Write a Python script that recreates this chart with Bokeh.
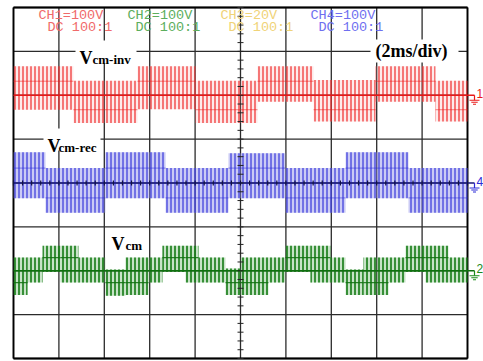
import numpy as np
from bokeh.plotting import figure
from bokeh.models import Range1d, Label
from bokeh.embed import file_html
from bokeh.resources import INLINE

# ---------------- screen geometry of the graticule ----------------
W, H = 483, 361
GX0, GX1 = 13, 467        # left / right border (px)
GY0, GY1 = 7, 358         # top / bottom border (px)
NX, NY = 10, 8            # divisions
MS_PER_DIV = 2            # 2 ms/div
PX_MS = (GX1 - GX0) / (NX * MS_PER_DIV)
PX_DIV = (GY1 - GY0) / NY
V_PER_DIV = 100


def X(px):
    return (px - GX0) / PX_MS


def Y(py):
    return NY / 2 - (py - GY0) / PX_DIV


# ---------------- data ----------------
# CH1  V_cm-inv (ground at +2 div)
ch1_edges = [0, 2.64, 5.46, 8.02, 10.75, 13.22, 15.95, 18.59, 20.0]
ch1_top = [66, 33, 66, 33, 66, 35, 66, 33]
ch1_bottom = [-33, -63, -32, -63, -15, -60, -15, -60]
ch1_band = [32, -33, 32, -33, 32, -33, 32, -33]

# CH4  V_cm-rec (ground at 0 div)
ch4_edges = [0, 1.41, 4.05, 6.70, 9.47, 11.98, 14.63, 17.40, 20.0]
ch4_top = [70, 34, 70, 34, 68, 34, 70, 34]
ch4_bottom = [-35, -68, -35, -68, -35, -68, -35, -68]
ch4_band = [34, -34, 34, -34, 34, -34, 34, -34]

# CH2  V_cm (ground at -2 div)
ch2_edges = [0, 0.62, 1.28, 2.07, 2.86, 4.05, 4.93, 5.95, 6.56, 7.58, 8.15,
             9.34, 10.0, 11.23, 11.98, 13.08, 13.96, 14.63, 15.42, 16.52,
             17.27, 18.15, 19.16, 20.0]
ch2_top = [30, 30, 57, 57, 30, 3, 30, 30, 57, 57, 30, 5, 30, 30, 57, 57, 30,
           3, 30, 30, 57, 57, 30]
ch2_bottom = [-55, -27, -3, -27, -27, -57, -55, -27, -3, -27, -27, -55, -55,
              -27, -3, -27, -27, -55, -55, -27, -3, -27, -27]

ch_offsets = {"CH1": 2, "CH4": 0, "CH2": -2}

header_names = ["CH1=100V", "CH2=100V", "CH3=20V", "CH4=100V"]
header_sub = ["DC 100:1", "DC 100:1", "DC 100:1", "DC 100:1"]
header_colors = ["#f06a6a", "#5cae5c", "#f0d377", "#6f6ff0"]

# ---------------- figure ----------------
p = figure(width=W, height=H, output_backend="svg", toolbar_location=None,
           x_range=Range1d(X(0), X(W)), y_range=Range1d(Y(H), Y(0)),
           x_axis_location=None, y_axis_location=None, min_border=0)
p.grid.visible = False
p.outline_line_color = None
p.background_fill_color = "white"
p.border_fill_color = "white"

t_end = NX * MS_PER_DIV
# graticule
vx = list(range(0, t_end + 1, MS_PER_DIV))
p.segment(x0=vx, x1=vx, y0=[-NY / 2] * len(vx), y1=[NY / 2] * len(vx),
          line_color="#2b2b2b", line_width=1.3)
hy = list(range(-NY // 2, NY // 2 + 1))
p.segment(x0=[0] * len(hy), x1=[t_end] * len(hy), y0=hy, y1=hy,
          line_color="#2b2b2b", line_width=1.3)
p.segment(x0=[0, t_end], x1=[0, t_end], y0=[-4, -4], y1=[4, 4],
          line_color="black", line_width=1.8)
p.segment(x0=[0, 0], x1=[t_end, t_end], y0=[-4, 4], y1=[-4, 4],
          line_color="black", line_width=1.8)


def trace(edges, top, bottom, band, off, line_color, fill_color, fill_alpha,
          hatch_alpha, base_color, weight=1.2):
    e = np.array(edges, dtype=float)
    top = off + np.array(top, dtype=float) / V_PER_DIV
    bot = off + np.array(bottom, dtype=float) / V_PER_DIV
    p.quad(left=e[:-1], right=e[1:], top=top, bottom=bot,
           fill_color=fill_color, fill_alpha=fill_alpha, line_color=None,
           hatch_pattern="vertical_line", hatch_scale=4,
           hatch_color=line_color, hatch_weight=weight,
           hatch_alpha=hatch_alpha)
    if band is not None:
        b = off + np.array(band, dtype=float) / V_PER_DIV
        p.segment(x0=e[:-1], x1=e[1:], y0=b, y1=b, line_color=line_color,
                  line_alpha=0.55, line_width=1)
    p.segment(x0=[0], x1=[X(474)], y0=[off], y1=[off], line_color=base_color,
              line_width=1.6)


trace(ch1_edges, ch1_top, ch1_bottom, ch1_band, ch_offsets["CH1"],
      "#ee1c1c", "#f39a9a", 0.2, 0.95, "#e81818")
trace(ch4_edges, ch4_top, ch4_bottom, ch4_band, ch_offsets["CH4"],
      "#2c2cd8", "#8c8ce8", 0.45, 0.95, "#1a1a7a")
g_band_hi = [30 if t > 40 else np.nan for t in ch2_top]
trace(ch2_edges, ch2_top, ch2_bottom, None, ch_offsets["CH2"],
      "#127a12", "#5fae5f", 0.35, 1.0, "#0f700f", weight=1.6)
gb = ch_offsets["CH2"] + np.array(g_band_hi) / V_PER_DIV
ge = np.array(ch2_edges)
p.segment(x0=ge[:-1], x1=ge[1:], y0=gb, y1=gb, line_color="#0f700f",
          line_width=1.3, line_alpha=0.85)
g_band_lo = [-27 if b < -40 else np.nan for b in ch2_bottom]
gl = ch_offsets["CH2"] + np.array(g_band_lo) / V_PER_DIV
p.segment(x0=ge[:-1], x1=ge[1:], y0=gl, y1=gl, line_color="#0f700f",
          line_width=1.3, line_alpha=0.85)

# centre axes with minor ticks
cx = t_end / 2
ty = np.arange(-NY / 2, NY / 2 + 0.01, 0.2)
dx = 3 / PX_MS
p.segment(x0=cx - dx, x1=cx + dx, y0=ty, y1=ty, line_color="#222222",
          line_width=1)
tx = np.arange(0, t_end + 0.01, MS_PER_DIV / 5)
dy = 2.5 / PX_DIV
p.segment(x0=tx, x1=tx, y0=-dy, y1=dy, line_color="#111144", line_width=1.2)

# ground markers at the right
for name, num, col in [("CH1", "1", "#e81818"), ("CH4", "4", "#2c2cd8"),
                       ("CH2", "2", "#198a19")]:
    y0 = ch_offsets[name]
    xs = X(474)
    p.segment(x0=[xs], x1=[xs], y0=[y0], y1=[y0 - 5 / PX_DIV],
              line_color=col, line_width=1.2)
    for k, hw in enumerate([5, 3.2, 1.5]):
        yy = y0 - (5 + 2 * k) / PX_DIV
        p.segment(x0=[xs - hw / PX_MS], x1=[xs + hw / PX_MS], y0=[yy],
                  y1=[yy], line_color=col, line_width=1.2)
    p.add_layout(Label(x=X(476), y=y0 + 2 / PX_DIV, text=num, text_color=col,
                       text_font="Liberation Sans", text_font_size="12px",
                       text_baseline="middle", text_align="left"))

# header texts
hx = [38, 127, 220, 310]
hx2 = [47, 135, 228, 318]
for i in range(4):
    p.add_layout(Label(x=X(hx[i]), y=Y(15), text=header_names[i],
                       text_color=header_colors[i],
                       text_font="Liberation Mono", text_font_size="13.5px",
                       text_baseline="middle", text_align="left"))
    p.add_layout(Label(x=X(hx2[i]), y=Y(27), text=header_sub[i],
                       text_color=header_colors[i],
                       text_font="Liberation Mono", text_font_size="13.5px",
                       text_baseline="middle", text_align="left"))

# white backgrounds behind the labels
p.quad(left=[X(75), X(43), X(370)], right=[X(136), X(100), X(458)],
       top=[Y(40), Y(128), Y(39)], bottom=[Y(63), Y(150), Y(62)],
       fill_color="white", line_color=None)


def vlabel(px, py_base, sub, sub_px):
    p.add_layout(Label(x=X(px), y=Y(py_base), text="V", text_color="black",
                       text_font="Liberation Serif", text_font_style="bold",
                       text_font_size="18px", text_baseline="alphabetic",
                       text_align="left"))
    p.add_layout(Label(x=X(sub_px), y=Y(py_base + 2), text=sub,
                       text_color="black", text_font="Liberation Serif",
                       text_font_style="bold", text_font_size="13px",
                       text_baseline="alphabetic", text_align="left"))


vlabel(79, 57, "cm-inv", 92)
vlabel(47, 145, "cm-rec", 58)
vlabel(111, 243, "cm", 125)

p.add_layout(Label(x=X(375), y=Y(50), text="(2ms/div)", text_color="black",
                   text_font="Liberation Serif", text_font_style="bold",
                   text_font_size="18px", text_baseline="middle",
                   text_align="left"))

open("out.html", "w").write(file_html(p, INLINE))
